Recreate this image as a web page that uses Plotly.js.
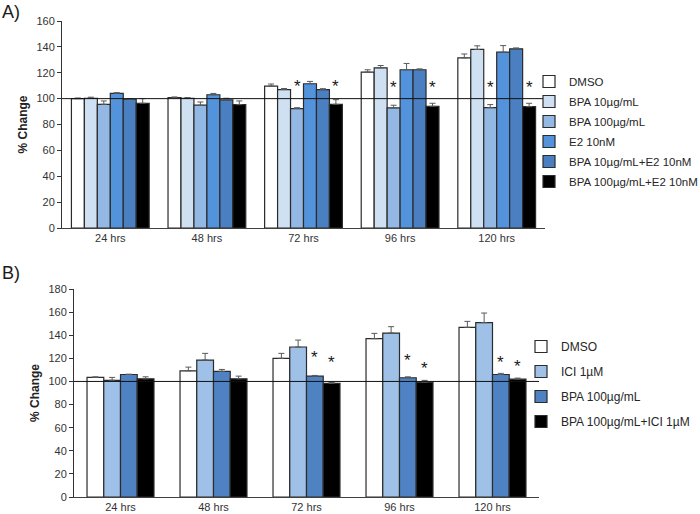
<!DOCTYPE html>
<html>
<head>
<meta charset="utf-8">
<script src="https://cdn.plot.ly/plotly-3.0.1.min.js"></script>
<style>
  html, body { margin: 0; padding: 0; background: #fff; }
  #wrap { position: relative; width: 700px; height: 514px; }
  #chartA, #chartB { position: absolute; left: 0; top: 0; width: 700px; height: 514px; }
</style>
</head>
<body>
<div id="wrap"><div id="chartA"></div><div id="chartB"></div></div>
<script>
// ---------- DATA ----------
const categories = ['24 hrs', '48 hrs', '72 hrs', '96 hrs', '120 hrs'];

// Panel A
const namesA = ['DMSO', 'BPA 10µg/mL', 'BPA 100µg/mL', 'E2 10nM', 'BPA 10µg/mL+E2 10nM', 'BPA 100µg/mL+E2 10nM'];
const dmsoA      = [100.0, 100.8, 109.7, 120.5, 131.5];
const dmsoAErr   = [0.5, 0.5, 1.6, 1.8, 3.0];
const bpa10A     = [100.3, 100.3, 107.0, 123.8, 138.0];
const bpa10AErr  = [0.8, 0.5, 0.8, 1.8, 2.8];
const bpa100A    = [95.6, 94.9, 92.3, 92.8, 93.0];
const bpa100AErr = [2.6, 2.5, 0.7, 2.1, 2.4];
const e2A        = [104.1, 103.0, 111.5, 122.3, 135.9];
const e2AErr     = [0.5, 1.0, 1.8, 4.9, 5.1];
const bpa10e2A   = [99.5, 99.0, 107.0, 122.3, 138.5];
const bpa10e2AErr= [0.5, 1.3, 0.7, 0.7, 0.7];
const bpa100e2A  = [96.4, 95.4, 95.6, 94.1, 93.8];
const bpa100e2AErr=[3.6, 2.8, 3.6, 2.3, 2.6];
// significance markers (height of asterisk, null = none)
const starA_bpa100   = [null, null, 109.5, 108.5, 108.5];
const starA_bpa100e2 = [null, null, 109.5, 108.5, 108.5];

// Panel B
const namesB = ['DMSO', 'ICI 1µM', 'BPA 100µg/mL', 'BPA 100µg/mL+ICI 1µM'];
const dmsoB       = [103.5, 109.2, 120.0, 137.0, 146.8];
const dmsoBErr    = [0.5, 3.2, 4.3, 4.6, 5.2];
const iciB        = [101.0, 118.5, 129.8, 141.9, 150.9];
const iciBErr     = [2.5, 5.8, 6.0, 5.5, 8.3];
const bpa100B     = [106.0, 108.7, 104.6, 103.2, 106.0];
const bpa100BErr  = [0.3, 1.7, 0.6, 0.8, 1.0];
const bpa100iciB  = [102.3, 102.3, 98.3, 99.4, 102.0];
const bpa100iciBErr=[1.7, 2.3, 0.8, 1.5, 0.9];
const starB_bpa100    = [null, null, 121, 118, 116];
const starB_bpa100ici = [null, null, 116, 111, 113];

const refLevel = 100;
const yTicksA = [0, 20, 40, 60, 80, 100, 120, 140, 160];
const yTicksB = [0, 20, 40, 60, 80, 100, 120, 140, 160, 180];

// ---------- STYLE ----------
const W = 700, H = 514;
const colorsA = ['#ffffff', '#cfe0f3', '#93b8e4', '#5393dc', '#4a7fc2', '#000000'];
const colorsB = ['#ffffff', '#9fc0e7', '#4f82c2', '#000000'];
const domXA = [62 / W, 545 / W], domYA = [(H - 228) / H, (H - 21) / H];
const domXB = [74 / W, 539 / W], domYB = [(H - 497) / H, (H - 289) / H];
const gapA = 0.195, gapB = 0.28;
const FONT = 'Liberation Sans, Arial, sans-serif';

function barTrace(name, y, err, color) {
  return {
    type: 'bar', name: name, x: categories, y: y, legendgroup: name,
    marker: { color: color, line: { color: '#2b2b2b', width: 1.2 } },
    error_y: { type: 'data', symmetric: false, array: err, arrayminus: err.map(() => 0),
               color: '#5a5a5a', thickness: 1, width: 3 },
    hoverinfo: 'skip'
  };
}

function stars(levels, idx, n, dom, gap) {
  const catPx = (dom[1] - dom[0]) * W / categories.length;
  const barPx = catPx * (1 - gap) / n;
  const shift = (idx - (n - 1) / 2) * barPx;
  const out = [];
  levels.forEach((v, k) => {
    if (v === null) return;
    out.push({ x: categories[k], y: v, xref: 'x', yref: 'y', text: '*', showarrow: false,
               xshift: shift, yanchor: 'middle',
               font: { family: FONT, size: 17, color: '#1a1a1a' } });
  });
  return out;
}

function panelLabel(txt, yPx) {
  return { text: txt, xref: 'paper', yref: 'paper', x: 0, y: 1 - yPx / H, xanchor: 'left', yanchor: 'middle',
           showarrow: false, font: { family: FONT, size: 18, color: '#1a1a1a' } };
}

function baseLayout(domX, domY, ticks, gap, legX, legYPx, groupGap, titleStandoff, legFont) {
  return {
    width: W, height: H,
    margin: { l: 0, r: 0, t: 0, b: 0, autoexpand: false },
    paper_bgcolor: 'rgba(0,0,0,0)', plot_bgcolor: 'rgba(0,0,0,0)',
    barmode: 'group', bargap: gap, showlegend: true,
    xaxis: {
      domain: domX, showline: true, linecolor: '#404040', linewidth: 1,
      ticks: '', showgrid: false, zeroline: false, automargin: false,
      tickfont: { family: FONT, size: 11, color: '#333' }, fixedrange: true
    },
    yaxis: {
      domain: domY, range: [0, ticks[ticks.length - 1]], automargin: false,
      tickvals: ticks, ticks: 'outside', ticklen: 4, tickcolor: '#333',
      showline: true, linecolor: '#333', linewidth: 1, showgrid: false, zeroline: false,
      tickfont: { family: FONT, size: 11, color: '#333' },
      title: { text: '<b>% Change</b>', font: { family: FONT, size: 12, color: '#222' }, standoff: titleStandoff },
      fixedrange: true
    },
    legend: { x: legX / W, y: 1 - legYPx / H, xanchor: 'left', yanchor: 'top', bgcolor: 'rgba(0,0,0,0)',
              font: { family: FONT, size: legFont, color: '#262626' }, tracegroupgap: groupGap, itemclick: false },
    shapes: [{ type: 'line', xref: 'x domain', yref: 'y', x0: 0, x1: 1, y0: refLevel, y1: refLevel,
               line: { color: '#111', width: 1 } }],
    font: { family: FONT }
  };
}

// Panel A
const seriesA = [dmsoA, bpa10A, bpa100A, e2A, bpa10e2A, bpa100e2A];
const errA = [dmsoAErr, bpa10AErr, bpa100AErr, e2AErr, bpa10e2AErr, bpa100e2AErr];
const tracesA = seriesA.map((s, i) => barTrace(namesA[i], s, errA[i], colorsA[i]));
const layoutA = baseLayout(domXA, domYA, yTicksA, gapA, 529, 67, 1, 6, 11.5);
layoutA.paper_bgcolor = '#fff';
layoutA.annotations = [].concat(
  stars(starA_bpa100, 2, 6, domXA, gapA),
  stars(starA_bpa100e2, 5, 6, domXA, gapA),
  [panelLabel('A)', 12)]
);

// Panel B
const seriesB = [dmsoB, iciB, bpa100B, bpa100iciB];
const errB = [dmsoBErr, iciBErr, bpa100BErr, bpa100iciBErr];
const tracesB = seriesB.map((s, i) => barTrace(namesB[i], s, errB[i], colorsB[i]));
const layoutB = baseLayout(domXB, domYB, yTicksB, gapB, 521, 332, 6, 6, 12);
layoutB.annotations = [].concat(
  stars(starB_bpa100, 2, 4, domXB, gapB),
  stars(starB_bpa100ici, 3, 4, domXB, gapB),
  [panelLabel('B)', 273)]
);

const cfg = { displayModeBar: false, staticPlot: true };
Plotly.newPlot('chartA', tracesA, layoutA, cfg);
Plotly.newPlot('chartB', tracesB, layoutB, cfg);
</script>
</body>
</html>
